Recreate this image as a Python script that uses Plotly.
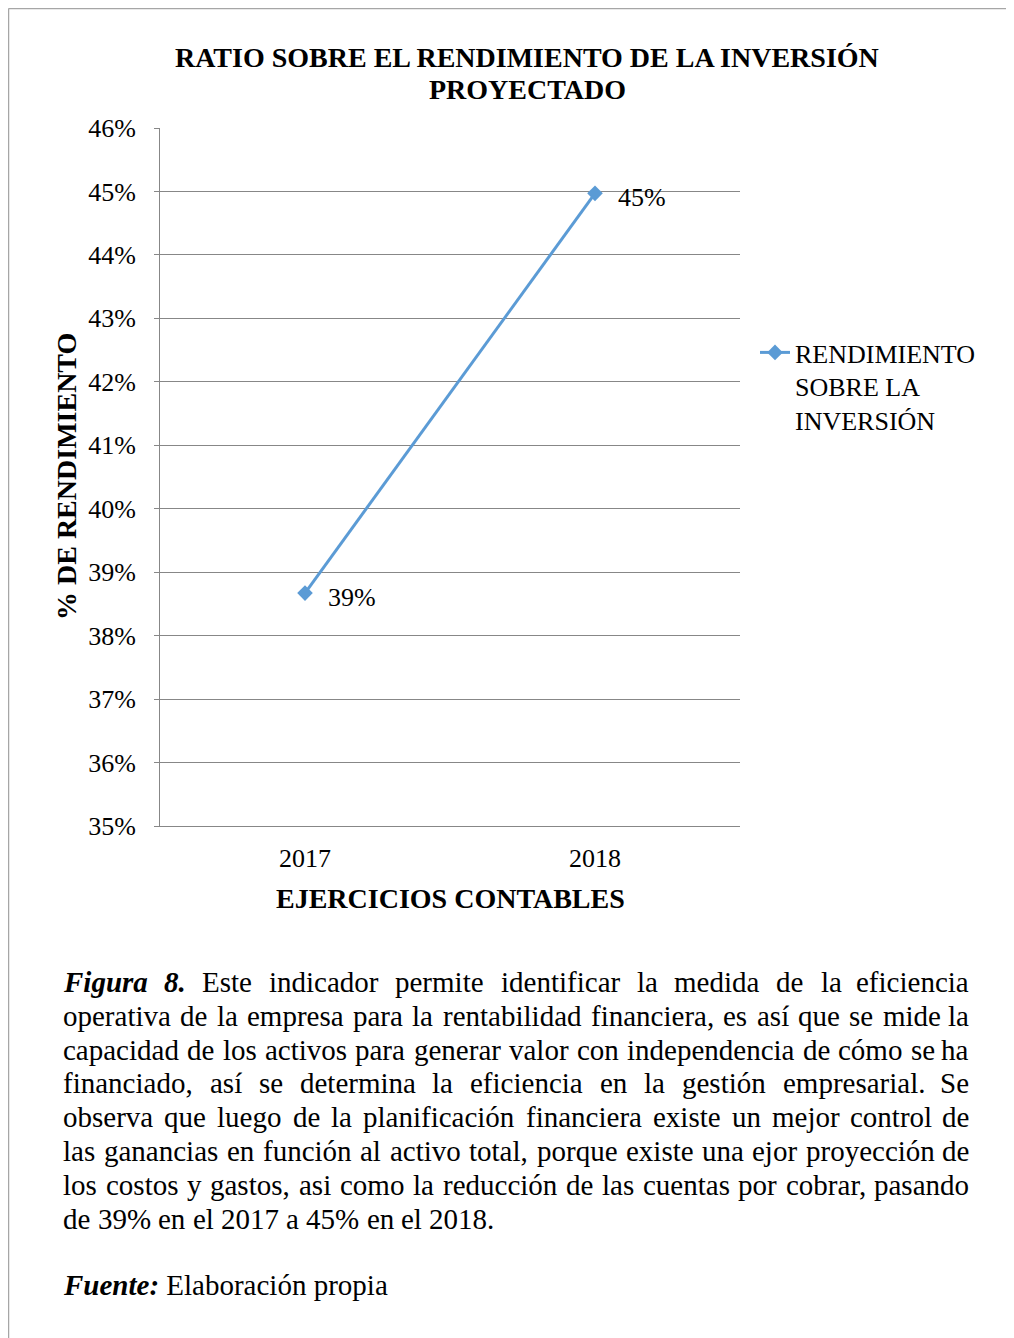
import unicodedata
import plotly.graph_objects as go

# data
years = ["2017", "2018"]
rendimiento = [0.3867, 0.4497]
serie = "RENDIMIENTO<br>SOBRE LA<br>INVERSIÓN"

title_lines = ["RATIO SOBRE EL RENDIMIENTO DE LA INVERSIÓN", "PROYECTADO"]
y_title = "% DE RENDIMIENTO"
x_title = "EJERCICIOS CONTABLES"

caption_lines = [
    "Figura 8. Este indicador permite identificar la medida de la eficiencia",
    "operativa de la empresa para la rentabilidad financiera, es así que se mide la",
    "capacidad de los activos para generar valor con independencia de cómo se ha",
    "financiado, así se determina la eficiencia en la gestión empresarial. Se",
    "observa que luego de la planificación financiera existe un mejor control de",
    "las ganancias en función al activo total, porque existe una ejor proyección de",
    "los costos y gastos, asi como la reducción de las cuentas por cobrar, pasando",
    "de 39% en el 2017 a 45% en el 2018.",
]
fuente = "Elaboración propia"

FONT = "Liberation Serif"
BLUE = "#5B9BD5"
GRID = "#878787"

# page pixels; the html body adds an 8px margin around the figure
OFF = 8
L, R, T, B = 160, 740, 128, 826
W, H = 1014 - OFF, 1338 - OFF


def px(x):
    return (x - L) / (R - L)


def py(y):
    return (B - y) / (B - T)


# Times metrics (per 1000 em), used to justify the caption
TIMES = dict(zip("abcdefghijklmnopqrstuvwxyz",
                 [444, 500, 444, 500, 444, 333, 500, 500, 278, 278, 500, 278, 778,
                  500, 500, 500, 500, 333, 389, 278, 500, 500, 722, 500, 500, 444]))
TIMES.update({",": 250, ".": 250, "%": 833, ":": 278, "E": 611, "S": 556})
TIMES.update({str(d): 500 for d in range(10)})
BOLD_ITAL = {"Figura": 2890, "8.": 750}


def word_w(w, size):
    if w in BOLD_ITAL:
        return BOLD_ITAL[w] * size / 1000
    tot = 0
    for ch in w:
        base = unicodedata.normalize("NFD", ch)[0]
        tot += TIMES.get(base, 500)
    return tot * size / 1000


def label(text, x, y, size=28, **kw):
    d = dict(x=px(x), y=py(y), xref="paper", yref="paper", text=text,
             showarrow=False, xanchor="center", yanchor="middle",
             font=dict(size=size, color="black", family=FONT))
    d.update(kw)
    return d


fig = go.Figure()
fig.add_trace(go.Scatter(
    x=years, y=rendimiento, name=serie, mode="lines+markers",
    line=dict(color=BLUE, width=3),
    marker=dict(symbol="diamond", size=12, color=BLUE),
))

annotations = []
# data labels (x given as category index)
for i, v in enumerate(rendimiento):
    annotations.append(dict(x=i, y=v, xref="x", yref="y", text=f"{v:.0%}",
                            showarrow=False, xanchor="left", yanchor="middle",
                            xshift=21, yshift=-4,
                            font=dict(size=26, color="black", family=FONT)))

annotations.append(label(f"<b>{title_lines[0]}</b>", 527, 57))
annotations.append(label(f"<b>{title_lines[1]}</b>", 527, 89))
annotations.append(label(f"<b>{y_title}</b>", 66, 477, textangle=-90))
annotations.append(label(f"<b>{x_title}</b>", 451, 899))

# justified caption
cap_size = 29
x0, x1 = 62, 970
line_y = [982, 1016, 1050, 1083, 1117, 1151, 1185, 1219]
for i, (line, ly) in enumerate(zip(caption_lines, line_y)):
    words = line.split(" ")
    last = i == len(caption_lines) - 1
    widths = [word_w(w, cap_size) for w in words]
    if last:
        gap = 250 * cap_size / 1000
    else:
        gap = (x1 - x0 - sum(widths)) / (len(words) - 1)
    xpos = x0
    for j, w in enumerate(words):
        txt = f"<b><i>{w}</i></b>" if w in BOLD_ITAL else w
        right = j == len(words) - 1 and not last
        annotations.append(label(txt, x1 if right else xpos, ly, size=cap_size,
                                 xanchor="right" if right else "left", borderpad=0))
        xpos += widths[j] + gap

annotations.append(label(f"<b><i>Fuente:</i></b> {fuente}", 62, 1285, size=cap_size,
                         xanchor="left", borderpad=0))

fig.update_layout(
    width=W, height=H,
    margin=dict(l=L - OFF, r=W - (R - OFF), t=T - OFF, b=H - (B - OFF), pad=0),
    paper_bgcolor="white", plot_bgcolor="white",
    font=dict(family=FONT, size=26, color="black"),
    showlegend=True,
    legend=dict(x=px(755), y=py(329), xanchor="left", yanchor="top",
                valign="top", bgcolor="rgba(0,0,0,0)",
                font=dict(size=26, family=FONT)),
    annotations=annotations,
    shapes=[
        dict(type="line", xref="paper", yref="paper", x0=px(OFF + 0.5), x1=px(OFF + 0.5),
             y0=py(OFF + 0.5), y1=py(1338), line=dict(color="#a6a6a6", width=1.5)),
        dict(type="line", xref="paper", yref="paper", x0=px(OFF + 0.5), x1=px(1014),
             y0=py(OFF + 0.5), y1=py(OFF + 0.5), line=dict(color="#a6a6a6", width=1.5)),
    ],
)
fig.update_yaxes(range=[0.35, 0.46], dtick=0.01, tickformat=".0%",
                 showgrid=True, gridcolor=GRID, gridwidth=1, zeroline=False,
                 showline=True, linecolor=GRID, linewidth=1,
                 ticks="outside", ticklen=5, tickcolor=GRID,
                 ticksuffix="  ", tickfont=dict(size=26, family=FONT))
fig.update_xaxes(type="category", categoryorder="array", categoryarray=years,
                 range=[-0.5, 1.5], showgrid=False, showline=True,
                 linecolor=GRID, linewidth=1, ticks="outside", ticklen=9,
                 tickcolor="rgba(0,0,0,0)", tickfont=dict(size=26, family=FONT))

fig.write_html("out.html")
